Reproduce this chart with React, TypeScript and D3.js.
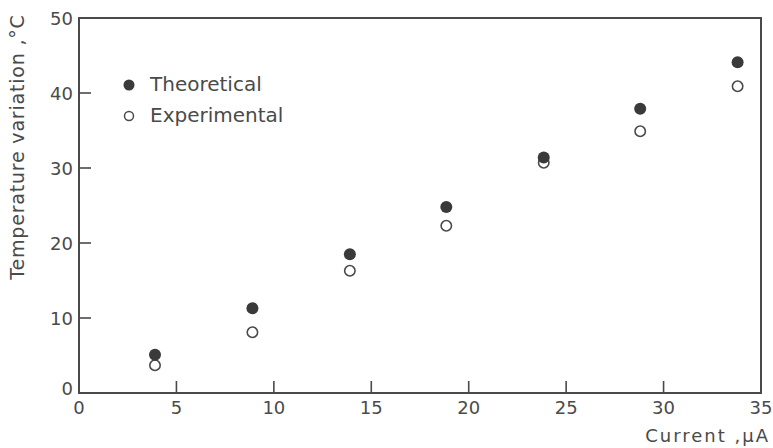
import React from "react";
import * as d3 from "d3";

const currents = [3.9, 8.9, 13.9, 18.85, 23.85, 28.8, 33.8];
const theoretical = [5.1, 11.3, 18.5, 24.8, 31.4, 37.9, 44.1];
const experimental = [3.7, 8.1, 16.3, 22.3, 30.7, 34.9, 40.9];
const xTicks = [0, 5, 10, 15, 20, 25, 30, 35];
const yTicks = [0, 10, 20, 30, 40, 50];

const W = 773, H = 448;
const M = { left: 79, right: 12, top: 18, bottom: 55 };
const C = "#4a4a4a";
const FONT = "'DejaVu Sans', sans-serif";

export default function App() {
  const x = d3.scaleLinear().domain([0, 35]).range([M.left, W - M.right]);
  const y = d3.scaleLinear().domain([0, 50]).range([H - M.bottom, M.top]);
  const x0 = x(0), x1 = x(35), y0 = y(0), y1 = y(50);
  return (
    <svg width={W} height={H} style={{ position: "absolute", left: 0, top: 0, background: "#fff" }}>
      <rect x={x0} y={y1} width={x1 - x0} height={y0 - y1} fill="none" stroke={C} strokeWidth={2} />
      {xTicks.filter(t => t > 0 && t < 35).map(t => (
        <line key={"xt" + t} x1={x(t)} x2={x(t)} y1={y0} y2={y0 - 12} stroke={C} strokeWidth={1.6} />
      ))}
      {yTicks.filter(t => t > 0 && t < 50).map(t => (
        <line key={"yt" + t} x1={x0} x2={x0 + 12} y1={y(t)} y2={y(t)} stroke={C} strokeWidth={1.6} />
      ))}
      {xTicks.map(t => (
        <text key={"xl" + t} x={x(t)} y={y0 + 21} textAnchor="middle" fontFamily={FONT} fontSize={18} fill={C}>{t}</text>
      ))}
      {yTicks.map(t => (
        <text key={"yl" + t} x={x0 - 6} y={y(t) + (t === 0 ? 2 : 7)} textAnchor="end" fontFamily={FONT} fontSize={18} fill={C}>{t}</text>
      ))}
      <text x={W - 3} y={H - 6} textAnchor="end" fontFamily={FONT} fontSize={18} letterSpacing={2} fill={C}>Current ,μA</text>
      <text transform={`translate(24, 147) rotate(-90)`} textAnchor="middle" fontFamily={FONT} fontSize={19} letterSpacing={0.8} fill={C}>Temperature variation ,°C</text>
      {currents.map((c, i) => (
        <circle key={"e" + i} cx={x(c)} cy={y(experimental[i])} r={5.2} fill="#fff" stroke={C} strokeWidth={1.6} />
      ))}
      {currents.map((c, i) => (
        <circle key={"t" + i} cx={x(c)} cy={y(theoretical[i])} r={6} fill="#3a3a3a" />
      ))}
      <circle cx={129} cy={85} r={5.5} fill="#3a3a3a" />
      <text x={150} y={91} fontFamily={FONT} fontSize={20} fill={C}>Theoretical</text>
      <circle cx={129} cy={116} r={4.5} fill="#fff" stroke={C} strokeWidth={1.5} />
      <text x={150} y={122} fontFamily={FONT} fontSize={20} fill={C}>Experimental</text>
    </svg>
  );
}
